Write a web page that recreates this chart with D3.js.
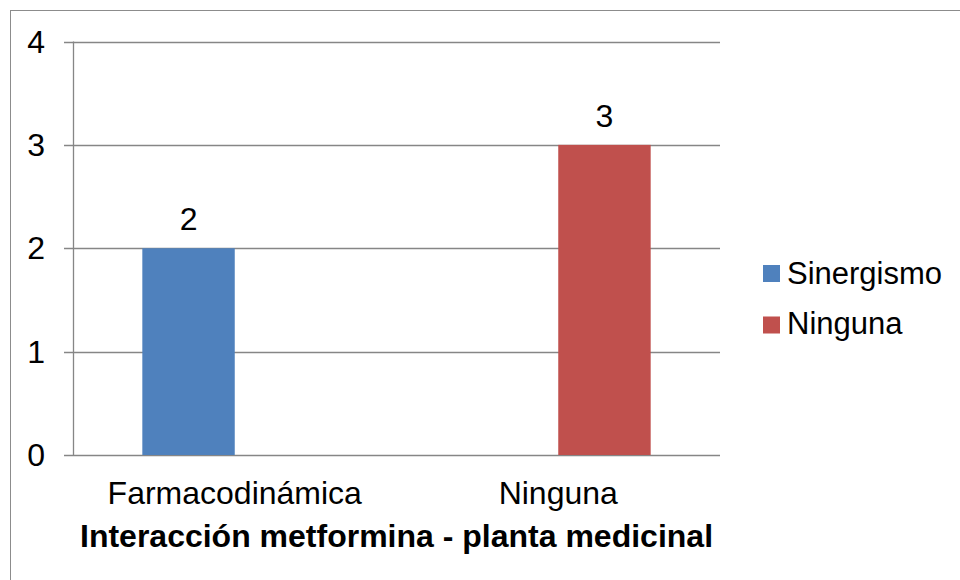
<!DOCTYPE html>
<html><head><meta charset="utf-8">
<script src="https://cdn.jsdelivr.net/npm/d3@7"></script>
<style>body{margin:0;background:#fff}svg{display:block}text{font-family:"Liberation Sans",Arial,sans-serif;fill:#000}</style>
</head><body>
<script>
const categories = ["Farmacodinámica", "Ninguna"];
const seriesNames = ["Sinergismo", "Ninguna"];
const sinergismo = [2, null];
const ninguna = [null, 3];
const yTicks = [0, 1, 2, 3, 4];
const colors = ["#4F81BD", "#C0504D"];
const axisTitle = "Interacción metformina - planta medicinal";

const W = 960, H = 580;
const svg = d3.select("body").append("svg").attr("width", W).attr("height", H);

svg.append("rect").attr("x", 10.5).attr("y", 10.5).attr("width", W + 10).attr("height", H + 10)
  .attr("fill", "#fff").attr("stroke", "#8c8c8c").attr("stroke-width", 1);

const x0 = d3.scaleBand().domain(categories).range([73, 720]);
const x1 = d3.scaleBand().domain(seriesNames).range([0, x0.bandwidth()]).paddingInner(0).paddingOuter(0.75);
const y = d3.scaleLinear().domain([0, 4]).range([455, 41.5]);

const g = svg.append("g");
g.selectAll("line.grid").data(yTicks).join("line")
  .attr("x1", 64).attr("x2", 720)
  .attr("y1", d => Math.round(y(d)) + 0.5).attr("y2", d => Math.round(y(d)) + 0.5)
  .attr("stroke", "#868686").attr("stroke-width", 1.3);
g.append("line").attr("x1", 73.5).attr("x2", 73.5).attr("y1", y(4)).attr("y2", y(0))
  .attr("stroke", "#868686").attr("stroke-width", 1.3);

g.selectAll("text.yt").data(yTicks).join("text")
  .attr("x", 45).attr("y", d => y(d) + 11).attr("text-anchor", "end")
  .attr("font-size", 32).text(d => d);

const series = [sinergismo, ninguna];
series.forEach((vals, si) => {
  const data = categories.map((c, i) => ({c, v: vals[i]})).filter(d => d.v != null);
  g.selectAll("rect.s" + si).data(data).join("rect")
    .attr("x", d => x0(d.c) + x1(seriesNames[si]))
    .attr("width", x1.bandwidth())
    .attr("y", d => y(d.v)).attr("height", d => y(0) - y(d.v))
    .attr("fill", colors[si]);
  g.selectAll("text.l" + si).data(data).join("text")
    .attr("x", d => x0(d.c) + x1(seriesNames[si]) + x1.bandwidth() / 2)
    .attr("y", d => y(d.v) - 18).attr("text-anchor", "middle")
    .attr("font-size", 32).text(d => d.v);
});

g.selectAll("text.xt").data(categories).join("text")
  .attr("x", d => x0(d) + x0.bandwidth() / 2).attr("y", 504).attr("text-anchor", "middle")
  .attr("font-size", 32).text(d => d);

svg.append("text").attr("x", (73 + 720) / 2).attr("y", 547).attr("text-anchor", "middle")
  .attr("font-size", 32).attr("font-weight", "bold").text(axisTitle);

const leg = svg.append("g");
seriesNames.forEach((s, i) => {
  leg.append("rect").attr("x", 763).attr("y", 265 + i * 51.5).attr("width", 17).attr("height", 17).attr("fill", colors[i]);
  leg.append("text").attr("x", 787).attr("y", 284 + i * 50).attr("font-size", 31).text(s);
});
</script>
</body></html>
